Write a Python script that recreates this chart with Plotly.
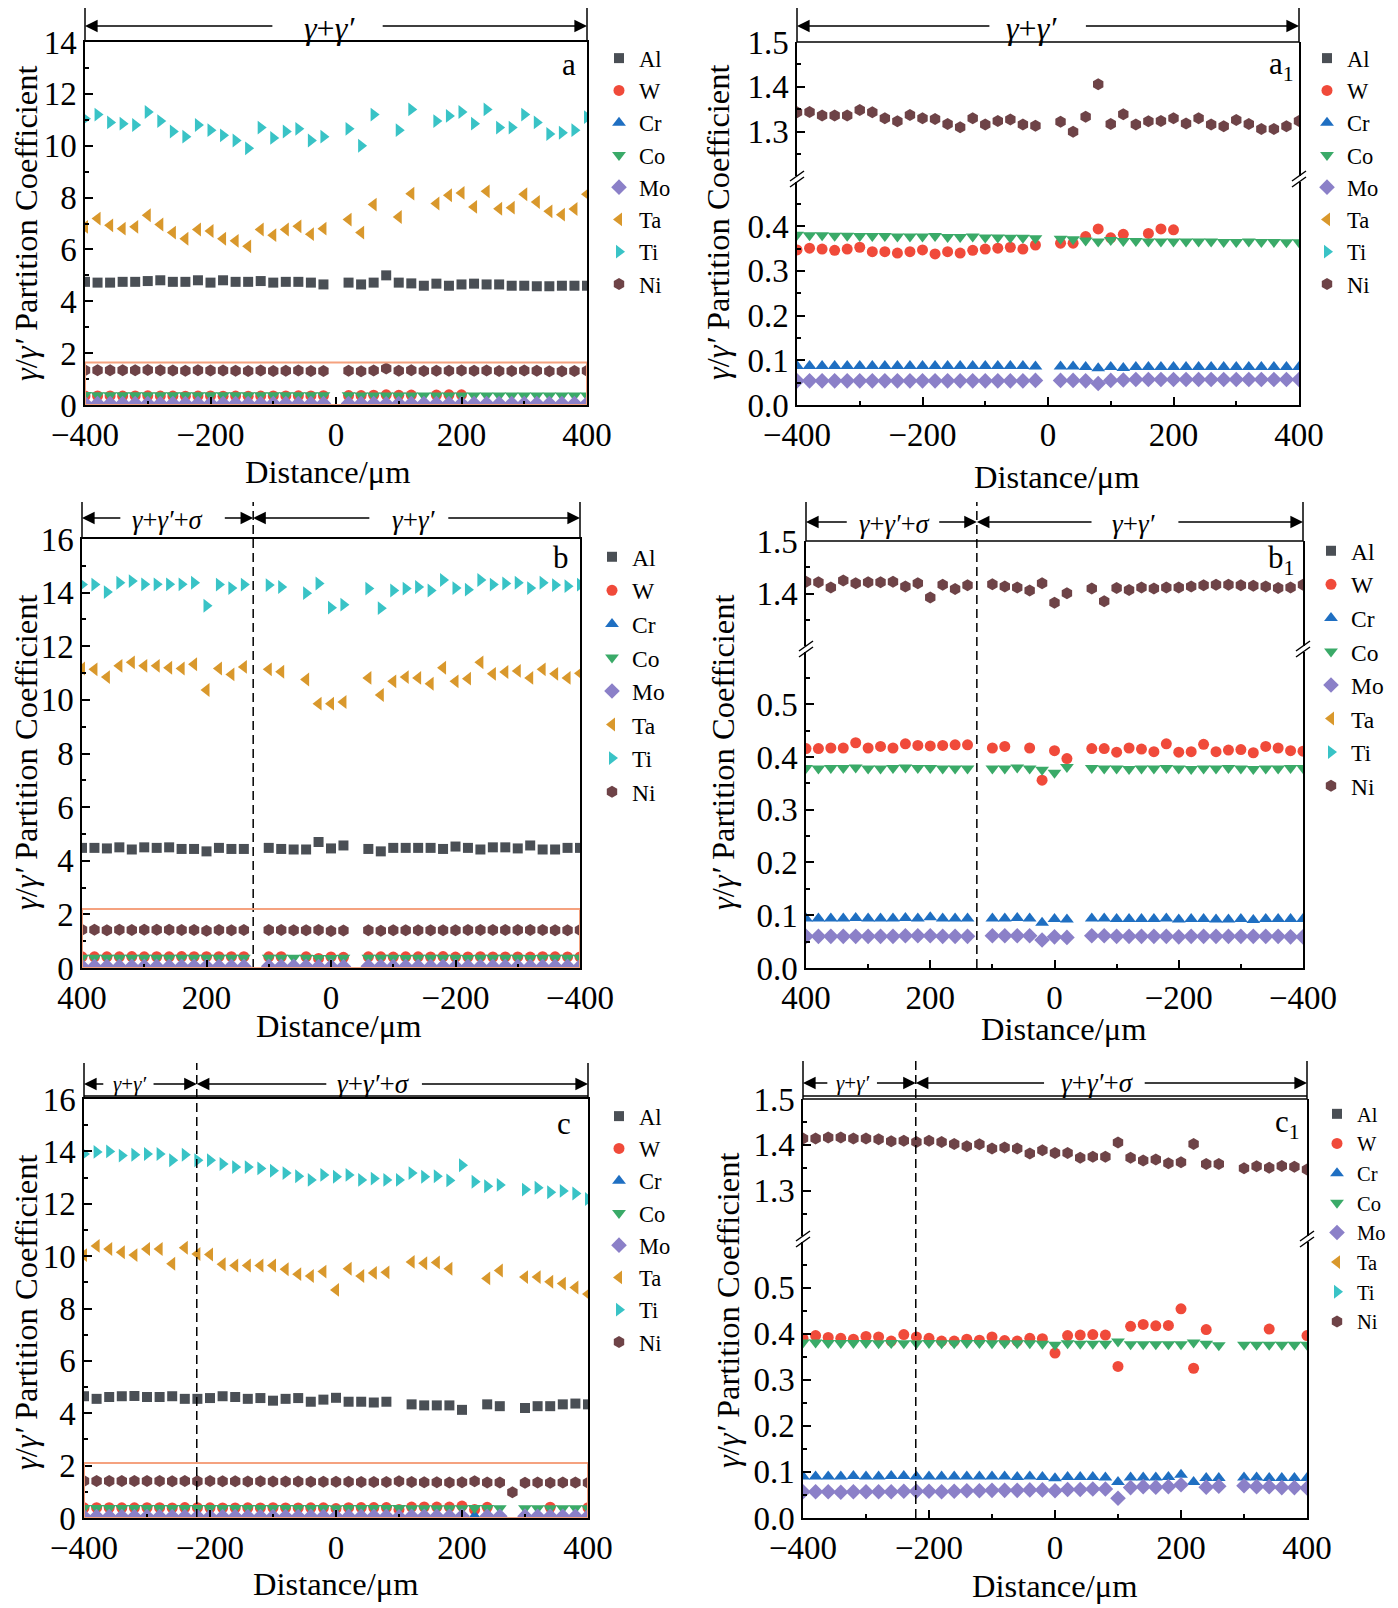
import plotly.graph_objects as go

W, H = 1398, 1608
OFF = 8  # page body margin of the html
FONT = "Liberation Serif"

elements = ["Al", "W", "Cr", "Co", "Mo", "Ta", "Ti", "Ni"]
colors = {"Al": "#4a4f55", "W": "#f04a3a", "Cr": "#1f6fc2", "Co": "#3aaa68",
          "Mo": "#8b80c8", "Ta": "#d9982c", "Ti": "#39c3c6", "Ni": "#6e4347"}
symbols = {"Al": "square", "W": "circle", "Cr": "triangle-up", "Co": "triangle-down",
           "Mo": "diamond", "Ta": "triangle-left", "Ti": "triangle-right", "Ni": "hexagon"}
sizes = {"Al": 10, "W": 11, "Cr": 12, "Co": 12, "Mo": 12, "Ta": 12, "Ti": 12, "Ni": 12}

# ---- sample a / a1 ----
dist_a = [-400, -380, -360, -340, -320, -300, -280, -260, -240, -220, -200, -180, -160, -140, -120, -100, -80, -60, -40, -20,
          20, 40, 60, 80, 100, 120, 140, 160, 180, 200, 220, 240, 260, 280, 300, 320, 340, 360, 380, 400]
al_a = [4.75, 4.72, 4.72, 4.75, 4.75, 4.78, 4.81, 4.75, 4.75, 4.81, 4.72, 4.81, 4.75, 4.75, 4.78, 4.72, 4.75, 4.75, 4.72, 4.65,
        4.72, 4.65, 4.72, 5.0, 4.72, 4.69, 4.6, 4.68, 4.6, 4.65, 4.68, 4.65, 4.65, 4.6, 4.6, 4.58, 4.58, 4.6, 4.6, 4.6]
w_a = [0.347, 0.351, 0.349, 0.346, 0.349, 0.353, 0.343, 0.343, 0.340, 0.343, 0.347, 0.338, 0.343, 0.340, 0.346, 0.349, 0.351, 0.353, 0.349, 0.358,
       0.362, 0.362, 0.377, 0.394, 0.374, 0.382, None, 0.384, 0.394, 0.392, None, None, None, None, None, None, None, None, None, None]
cr_a = [0.087, 0.087, 0.087, 0.087, 0.087, 0.087, 0.087, 0.087, 0.087, 0.087, 0.087, 0.087, 0.087, 0.087, 0.087, 0.087, 0.087, 0.087, 0.087, 0.086,
        0.086, 0.086, 0.085, 0.082, 0.085, 0.083, 0.085, 0.085, 0.085, 0.085, 0.085, 0.085, 0.085, 0.085, 0.085, 0.085, 0.085, 0.085, 0.085, 0.085]
co_a = [0.381, 0.380, 0.380, 0.379, 0.379, 0.378, 0.378, 0.378, 0.377, 0.377, 0.377, 0.378, 0.376, 0.376, 0.377, 0.375, 0.375, 0.374, 0.374, 0.373,
        0.372, 0.371, 0.368, 0.366, 0.369, 0.367, 0.367, 0.366, 0.366, 0.366, 0.366, 0.366, 0.366, 0.365, 0.365, 0.366, 0.365, 0.365, 0.364, 0.364]
mo_a = [0.054, 0.054, 0.054, 0.054, 0.054, 0.054, 0.054, 0.054, 0.054, 0.054, 0.054, 0.054, 0.054, 0.054, 0.054, 0.054, 0.054, 0.054, 0.054, 0.055,
        0.055, 0.055, 0.054, 0.048, 0.055, 0.056, 0.057, 0.057, 0.057, 0.057, 0.057, 0.057, 0.057, 0.057, 0.057, 0.057, 0.057, 0.057, 0.057, 0.057]
ta_a = [6.87, 7.19, 6.93, 6.8, 6.87, 7.32, 6.96, 6.65, 6.41, 6.77, 6.71, 6.41, 6.33, 6.12, 6.77, 6.55, 6.77, 6.89, 6.59, 6.8,
        7.15, 6.65, 7.73, None, 7.25, 8.15, None, 7.77, 8.09, 8.18, 7.64, 8.24, 7.57, 7.61, 8.13, 7.83, 7.47, 7.34, 7.56, 8.13]
ti_a = [11.04, 11.2, 10.9, 10.85, 10.8, 11.3, 10.95, 10.55, 10.35, 10.8, 10.6, 10.4, 10.2, 9.9, 10.7, 10.3, 10.55, 10.65, 10.2, 10.35,
        10.65, 10.0, 11.2, None, 10.6, 11.4, None, 10.95, 11.15, 11.3, 10.85, 11.4, 10.7, 10.7, 11.2, 10.9, 10.45, 10.5, 10.6, 11.1]
ni_a = [1.343, 1.344, 1.336, 1.336, 1.336, 1.348, 1.343, 1.330, 1.323, 1.337, 1.330, 1.328, 1.317, 1.310, 1.330, 1.316, 1.324, 1.327, 1.316, 1.313,
        1.322, 1.300, 1.333, 1.406, 1.317, 1.339, 1.316, 1.323, 1.324, 1.330, 1.318, 1.330, 1.316, 1.312, 1.326, 1.317, 1.306, 1.306, 1.312, 1.324]

# ---- sample b / b1 ----
dist_b = [400, 380, 360, 340, 320, 300, 280, 260, 240, 220, 200, 180, 160, 140,
          100, 80, 60, 40, 20, 0, -20,
          -60, -80, -100, -120, -140, -160, -180, -200, -220, -240, -260, -280, -300, -320, -340, -360, -380, -400]
al_b = [4.48, 4.48, 4.46, 4.50, 4.42, 4.50, 4.48, 4.50, 4.44, 4.44, 4.35, 4.48, 4.44, 4.44,
        4.48, 4.44, 4.42, 4.42, 4.70, 4.46, 4.57,
        4.44, 4.35, 4.48, 4.48, 4.48, 4.48, 4.44, 4.53, 4.48, 4.42, 4.50, 4.50, 4.46, 4.57, 4.42, 4.42, 4.48, 4.48]
w_b = [0.416, 0.416, 0.417, 0.417, 0.427, 0.417, 0.420, 0.417, 0.425, 0.422, 0.421, 0.422, 0.423, 0.423,
       0.417, 0.420, None, 0.417, 0.356, 0.412, 0.397,
       0.416, 0.416, 0.409, 0.417, 0.415, 0.410, 0.425, 0.409, 0.410, 0.424, 0.410, 0.413, 0.414, 0.408, 0.420, 0.417, 0.412, 0.411]
cr_b = [0.094, 0.094, 0.094, 0.094, 0.095, 0.094, 0.094, 0.094, 0.095, 0.094, 0.096, 0.094, 0.094, 0.094,
        0.094, 0.094, 0.095, 0.094, 0.086, 0.093, 0.092,
        0.094, 0.094, 0.093, 0.093, 0.093, 0.093, 0.094, 0.092, 0.093, 0.093, 0.092, 0.092, 0.093, 0.091, 0.093, 0.093, 0.093, 0.093]
co_b = [0.379, 0.378, 0.379, 0.379, 0.380, 0.378, 0.378, 0.379, 0.380, 0.379, 0.379, 0.378, 0.378, 0.378,
        0.378, 0.378, 0.380, 0.378, 0.376, 0.370, 0.381,
        0.379, 0.378, 0.378, 0.377, 0.378, 0.378, 0.379, 0.378, 0.377, 0.378, 0.378, 0.379, 0.378, 0.377, 0.378, 0.378, 0.379, 0.379]
mo_b = [0.060, 0.060, 0.060, 0.060, 0.060, 0.060, 0.060, 0.060, 0.061, 0.061, 0.061, 0.060, 0.060, 0.060,
        0.061, 0.061, 0.061, 0.061, 0.053, 0.059, 0.058,
        0.061, 0.061, 0.060, 0.060, 0.060, 0.060, 0.060, 0.059, 0.060, 0.060, 0.060, 0.060, 0.060, 0.060, 0.060, 0.060, 0.059, 0.059]
ta_b = [11.17, 11.14, 10.85, 11.27, 11.40, 11.27, 11.27, 11.20, 11.17, 11.33, 10.37, 11.17, 10.95, 11.23,
        11.14, 11.05, None, 10.76, 9.86, 9.86, 9.92,
        10.82, 10.18, 10.69, 10.85, 10.82, 10.60, 11.20, 10.69, 10.79, 11.40, 10.97, 11.04, 11.08, 10.82, 11.14, 10.97, 10.82, 10.99]
ti_b = [14.30, 14.30, 14.02, 14.37, 14.43, 14.31, 14.31, 14.31, 14.31, 14.37, 13.51, 14.30, 14.17, 14.30,
        14.28, 14.21, None, 13.98, 14.34, 13.44, 13.55,
        14.15, 13.42, 14.08, 14.15, 14.21, 14.08, 14.47, 14.17, 14.11, 14.47, 14.30, 14.34, 14.37, 14.17, 14.37, 14.28, 14.24, 14.30]
ni_b = [1.423, 1.422, 1.412, 1.425, 1.420, 1.422, 1.422, 1.423, 1.414, 1.420, 1.393, 1.417, 1.409, 1.416,
        1.418, 1.414, 1.412, 1.406, 1.420, 1.383, 1.401,
        1.410, 1.386, 1.411, 1.407, 1.412, 1.410, 1.412, 1.412, 1.414, 1.416, 1.417, 1.417, 1.416, 1.415, 1.414, 1.411, 1.412, 1.417]

# ---- sample c / c1 ----
dist_c = [-400, -380, -360, -340, -320, -300, -280, -260, -240, -220, -200, -180, -160, -140, -120, -100, -80, -60, -40, -20,
          0, 20, 40, 60, 80, 100, 120, 140, 160, 180, 200, 220, 240, 260, 280, 300, 320, 340, 360, 380, 400]
al_c = [4.65, 4.55, 4.62, 4.65, 4.66, 4.62, 4.62, 4.65, 4.55, 4.55, 4.58, 4.65, 4.62, 4.55, 4.58, 4.48, 4.55, 4.58, 4.44, 4.52,
        4.59, 4.44, 4.44, 4.41, 4.44, None, 4.34, 4.30, 4.30, 4.30, 4.13, None, 4.34, 4.27, None, 4.20, 4.27, 4.27, 4.34, 4.37, 4.34]
w_c = [0.390, 0.396, 0.392, 0.390, 0.388, 0.394, 0.393, 0.384, 0.398, 0.393, 0.390, 0.384, 0.384, 0.388, 0.386, 0.393, 0.385, 0.384, 0.390, 0.389,
       0.358, 0.396, 0.397, 0.398, 0.397, 0.329, 0.416, 0.420, 0.417, 0.418, 0.454, 0.325, 0.409, None, None, None, None, 0.410, None, None, 0.396]
cr_c = [0.090, 0.090, 0.090, 0.090, 0.091, 0.090, 0.090, 0.091, 0.091, 0.090, 0.090, 0.090, 0.090, 0.090, 0.090, 0.090, 0.090, 0.089, 0.090, 0.089,
        0.086, 0.089, 0.089, 0.089, 0.088, 0.078, 0.088, 0.088, 0.088, 0.089, 0.094, 0.078, 0.087, 0.087, None, 0.088, 0.088, 0.087, 0.087, 0.087, 0.087]
co_c = [0.381, 0.381, 0.380, 0.380, 0.380, 0.380, 0.379, 0.380, 0.379, 0.379, 0.380, 0.379, 0.379, 0.380, 0.380, 0.379, 0.379, 0.379, 0.379, 0.378,
        0.376, 0.379, 0.378, 0.378, 0.378, 0.383, 0.377, 0.377, 0.377, 0.377, 0.377, 0.381, 0.378, 0.375, None, 0.376, 0.376, 0.376, 0.376, 0.376, 0.376]
mo_c = [0.057, 0.057, 0.057, 0.056, 0.057, 0.057, 0.057, 0.057, 0.058, 0.058, 0.058, 0.057, 0.058, 0.059, 0.059, 0.060, 0.060, 0.060, 0.061, 0.061,
        0.059, 0.062, 0.062, 0.063, 0.063, 0.043, 0.066, 0.068, 0.067, 0.068, 0.072, None, 0.067, 0.069, None, 0.070, 0.068, 0.068, 0.066, 0.066, 0.065]
ta_c = [10.04, 10.39, 10.27, 10.15, 10.04, 10.27, 10.27, 9.71, 10.32, 10.08, 10.06, 9.69, 9.64, 9.64, 9.64, 9.64, 9.50, 9.31, 9.24, 9.41,
        8.71, 9.52, 9.24, 9.36, 9.38, None, 9.78, 9.73, 9.76, 9.52, None, None, 9.15, 9.45, None, 9.20, 9.20, 9.02, 8.95, 8.80, 8.55]
ti_c = [13.90, 13.98, 14.00, 13.84, 13.87, 13.90, 13.90, 13.66, 13.87, 13.66, 13.66, 13.52, 13.40, 13.40, 13.35, 13.26, 13.17, 13.05, 12.91, 13.10,
        13.03, 13.10, 12.91, 12.96, 12.91, 12.91, 13.17, 13.03, 13.05, 12.89, 13.47, 12.84, 12.67, 12.72, None, 12.54, 12.61, 12.44, 12.49, 12.39, 12.18]
ni_c = [1.414, 1.414, 1.416, 1.416, 1.414, 1.414, 1.412, 1.408, 1.409, 1.406, 1.409, 1.406, 1.402, 1.397, 1.401, 1.392, 1.394, 1.392, 1.381, 1.388,
        1.382, 1.382, 1.372, 1.374, 1.374, 1.405, 1.372, 1.366, 1.368, 1.360, 1.362, 1.402, 1.358, 1.358, 0.98, 1.349, 1.353, 1.350, 1.354, 1.352, 1.346]

# boundaries between regions (um) and red box heights
boundary_b = 125
boundary_c = -221
box_top = {"a": 1.64, "b": 2.2, "c": 2.1}

data_a = dict(zip(elements, [al_a, w_a, cr_a, co_a, mo_a, ta_a, ti_a, ni_a]))
data_b = dict(zip(elements, [al_b, w_b, cr_b, co_b, mo_b, ta_b, ti_b, ni_b]))
data_c = dict(zip(elements, [al_c, w_c, cr_c, co_c, mo_c, ta_c, ti_c, ni_c]))


def fx(p):
    return (p - OFF) / W


def fy(p):
    return 1 - (p - OFF) / H


fig = go.Figure()
tickfont = dict(family=FONT, size=33, color="black")


def xaxis(left, right, rng, anchor, mirror):
    return dict(domain=[fx(left), fx(right)], range=rng, anchor=anchor, showline=True, linecolor="black",
                linewidth=1.5, mirror=mirror, ticks="inside", ticklen=8, tickwidth=1.5, tickcolor="black",
                dtick=200, tick0=0, minor=dict(ticks="inside", ticklen=4, dtick=100, tickcolor="black"),
                showgrid=False, zeroline=False, tickfont=tickfont, automargin=False)


def yaxis(bottom, top, rng, anchor, dtick, fmt=None):
    return dict(domain=[fy(bottom), fy(top)], range=rng, anchor=anchor, showline=True, linecolor="black",
                linewidth=1.5, mirror=True, ticks="inside", ticklen=8, tickwidth=1.5, tickcolor="black",
                dtick=dtick, tick0=0, minor=dict(ticks="inside", ticklen=4, dtick=dtick / 2, tickcolor="black"),
                showgrid=False, zeroline=False, tickfont=tickfont, tickformat=fmt, automargin=False)


def add_points(dist, data, xa, ya, legend, showlegend=True):
    for el in elements:
        fig.add_trace(go.Scatter(x=dist, y=data[el], mode="markers", name=el, xaxis=xa, yaxis=ya,
                                 legend=legend, showlegend=showlegend,
                                 marker=dict(symbol=symbols[el], color=colors[el], size=sizes[el], line=dict(width=0))))


# left panels (full range)
add_points(dist_a, data_a, "x", "y", "legend")
add_points(dist_b, data_b, "x3", "y4", "legend3")
add_points(dist_c, data_c, "x5", "y7", "legend5")
# right panels (broken axis: lower + upper)
add_points(dist_a, data_a, "x2", "y2", "legend2")
add_points(dist_a, data_a, "x2", "y3", "legend2", False)
add_points(dist_b, data_b, "x4", "y5", "legend4")
add_points(dist_b, data_b, "x4", "y6", "legend4", False)
add_points(dist_c, data_c, "x6", "y8", "legend6")
add_points(dist_c, data_c, "x6", "y9", "legend6", False)

# panel geometry in pixels
pa = dict(L=85, R=587, T=42, B=405, hdr=2, arr=26)
pa1 = dict(L=797, R=1299, T=42, B=405, LT=182, UB=176, hdr=6, arr=26)
pb = dict(L=82, R=580, T=539, B=968, hdr=502, arr=518)
pb1 = dict(L=806, R=1303, T=541, B=968, LT=652, UB=646, hdr=502, arr=522)
pc = dict(L=84, R=588, T=1099, B=1518, hdr=1063, arr=1084)
pc1 = dict(L=803, R=1307, T=1099, B=1518, LT=1242, UB=1236, hdr=1061, arr=1083)

fig.update_layout(
    xaxis=xaxis(pa["L"], pa["R"], [-400, 400], "y", True),
    yaxis=yaxis(pa["B"], pa["T"], [0, 14], "x", 2),
    xaxis2=xaxis(pa1["L"], pa1["R"], [-400, 400], "y2", False),
    yaxis2=yaxis(pa1["B"], pa1["LT"], [0, 0.499], "x2", 0.1, ".1f"),
    yaxis3=yaxis(pa1["UB"], pa1["T"], [1.201, 1.5], "x2", 0.1, ".1f"),
    xaxis3=xaxis(pb["L"], pb["R"], [400, -400], "y4", True),
    yaxis4=yaxis(pb["B"], pb["T"], [0, 16], "x3", 2),
    xaxis4=xaxis(pb1["L"], pb1["R"], [400, -400], "y5", False),
    yaxis5=yaxis(pb1["B"], pb1["LT"], [0, 0.599], "x4", 0.1, ".1f"),
    yaxis6=yaxis(pb1["UB"], pb1["T"], [1.301, 1.5], "x4", 0.1, ".1f"),
    xaxis5=xaxis(pc["L"], pc["R"], [-400, 400], "y7", True),
    yaxis7=yaxis(pc["B"], pc["T"], [0, 16], "x5", 2),
    xaxis6=xaxis(pc1["L"], pc1["R"], [-400, 400], "y8", False),
    yaxis8=yaxis(pc1["B"], pc1["LT"], [0, 0.599], "x6", 0.1, ".1f"),
    yaxis9=yaxis(pc1["UB"], pc1["T"], [1.201, 1.5], "x6", 0.1, ".1f"),
)

# legend: name, left px, top px, font size
legend_pos = [("legend", 599, 37, 22.5), ("legend2", 1307, 37, 22.5), ("legend3", 592, 535, 23.5),
              ("legend4", 1311, 529, 23.5), ("legend5", 599, 1095, 22.5), ("legend6", 1317, 1094, 20.5)]
for name, lx, ly, fs in legend_pos:
    fig.update_layout({name: dict(x=fx(lx), y=fy(ly), xanchor="left", yanchor="top", bgcolor="rgba(0,0,0,0)",
                                  font=dict(family=FONT, size=fs, color="black"), itemwidth=30, tracegroupgap=0)})

shapes = []
annotations = []


def pline(x0, y0, x1, y1):
    shapes.append(dict(type="line", xref="paper", yref="paper", x0=fx(x0), y0=fy(y0), x1=fx(x1), y1=fy(y1),
                       line=dict(color="black", width=1.5)))


def frame(p, broken):
    # extend side axes into header strip
    pline(p["L"], p["T"], p["L"], p["hdr"])
    pline(p["R"], p["T"], p["R"], p["hdr"])
    if broken:
        pline(p["L"], p["T"], p["R"], p["T"])
        gy = (p["LT"] + p["UB"]) / 2
        for x in (p["L"], p["R"]):
            for off in (-3, 3):
                pline(x - 7, gy + off + 5, x + 7, gy + off - 5)


frame(pa, False)
frame(pa1, True)
frame(pb, False)
frame(pb1, True)
frame(pc, False)
frame(pc1, True)
# double top line on c panels
pline(pc["L"], pc["T"] - 3, pc["R"], pc["T"] - 3)
pline(pc1["L"], pc1["T"] - 3, pc1["R"], pc1["T"] - 3)

# dashed region boundaries
for xa, p, xb in (("x3", pb, boundary_b), ("x4", pb1, boundary_b), ("x5", pc, boundary_c), ("x6", pc1, boundary_c)):
    shapes.append(dict(type="line", xref=xa, yref="paper", x0=xb, x1=xb, y0=fy(p["B"]), y1=fy(p["hdr"]),
                       line=dict(color="black", width=1.5, dash="9px,5px")))

# orange boxes on the full-range panels
for xa, ya, key in (("x", "y", "a"), ("x3", "y4", "b"), ("x5", "y7", "c")):
    shapes.append(dict(type="rect", xref=xa, yref=ya, x0=-400, x1=400, y0=0, y1=box_top[key],
                       line=dict(color="#f5a27f", width=2)))


def header(xa, p, text, cx, tail_l, head_l, tail_r, head_r, size, dy=0):
    y = fy(p["arr"])
    annotations.append(dict(x=cx, y=fy(p["arr"] + dy), xref=xa, yref="paper", text=text, showarrow=False,
                            xanchor="center", yanchor="middle",
                            font=dict(family=FONT, size=size, color="black")))
    for tail, head in ((tail_l, head_l), (tail_r, head_r)):
        annotations.append(dict(x=head, y=y, ax=tail, ay=0, xref=xa, yref="paper", axref=xa, ayref="pixel",
                                text="", showarrow=True, arrowhead=2, arrowsize=1.8, arrowwidth=1.4,
                                arrowcolor="black", standoff=0, startstandoff=0))


g1 = "<i>γ</i>+<i>γ′</i>"
g2 = "<i>γ</i>+<i>γ′</i>+<i>σ</i>"
header("x", pa, g1, -11, -99, -400, 72, 400, 32, 2)
header("x2", pa1, g1, -26, -91, -400, 58, 400, 32, 2)
header("x3", pb, g2, 262, 336, 400, 173, boundary_b, 26.5, 2)
header("x3", pb, g1, -133, -64, boundary_b, -186, -400, 27, 2)
header("x4", pb1, g2, 258, 332, 400, 188, boundary_b, 26.5, 2)
header("x4", pb1, g1, -128, -62, boundary_b, -197, -400, 27, 2)
header("x5", pc, g1, -327, -367, -400, -292, boundary_c, 21)
header("x5", pc, g2, 60, -13, boundary_c, 134, 400, 27)
header("x6", pc1, g1, -322, -359, -400, -285, boundary_c, 21)
header("x6", pc1, g2, 68, -15, boundary_c, 140, 400, 27)


def text(x, y, s, size=31, angle=0):
    annotations.append(dict(x=fx(x), y=fy(y), xref="paper", yref="paper", text=s, showarrow=False,
                            xanchor="center", yanchor="middle", textangle=angle,
                            font=dict(family=FONT, size=size, color="black")))


ytitle = "<i>γ</i>/<i>γ′</i> Partition Coefficient"
for x, y in ((26, 223), (718, 222), (26, 752), (723, 752), (26, 1312), (728, 1310)):
    text(x, y, ytitle, 32.5, -90)
for x, y in ((327, 472), (1056, 477), (338, 1026), (1063, 1029), (335, 1584), (1054, 1586)):
    text(x, y, "Distance/μm", 32.5)

labels = [(569, 65, "a"), (1281, 66, "a<sub>1</sub>"), (561, 557, "b"), (1281, 560, "b<sub>1</sub>"),
          (564, 1123, "c"), (1287, 1124, "c<sub>1</sub>")]
for x, y, s in labels:
    text(x, y, s, 31)

fig.update_layout(width=W, height=H, margin=dict(l=0, r=0, t=0, b=0, autoexpand=False), paper_bgcolor="white",
                  plot_bgcolor="white", font=dict(family=FONT, color="black"),
                  shapes=shapes, annotations=annotations)

fig.write_html("out.html")
